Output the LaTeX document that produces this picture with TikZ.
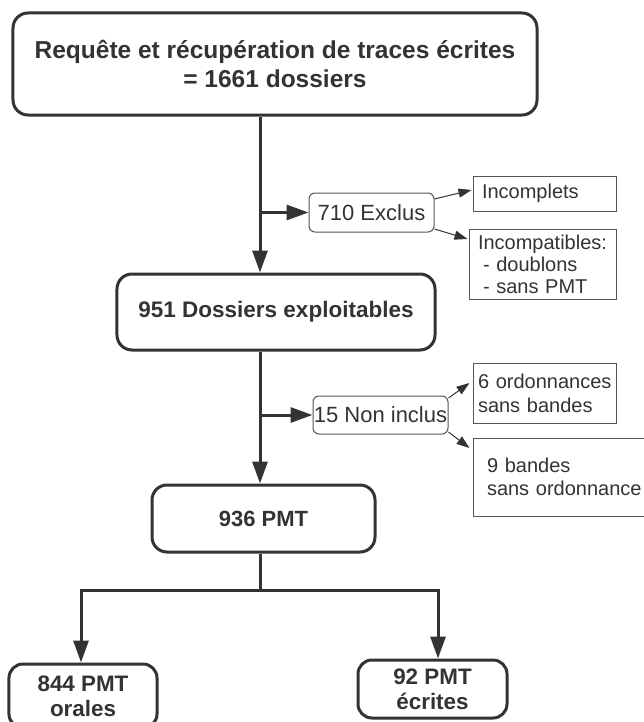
\documentclass[tikz,border=0pt]{standalone}
\usepackage{fontspec}
\setmainfont{Liberation Sans}
\usetikzlibrary{arrows.meta}
\definecolor{dk}{HTML}{333333}
\definecolor{md}{HTML}{555555}
\newcommand\fsz[2]{\fontsize{#1bp}{#2bp}\selectfont}
\hyphenpenalty=10000
\exhyphenpenalty=10000
\begin{document}
\begin{tikzpicture}[x=1bp,y=-1bp,
  bigbox/.style={draw=dk, line width=3bp, rounded corners=15bp, fill=white, text=dk, align=center, inner sep=0pt},
  smallbox/.style={draw=md, line width=1bp, rounded corners=6bp, fill=white, text=dk, inner sep=0pt},
  notebox/.style={draw=md, line width=1bp, fill=white, text=dk, align=left, inner ysep=0pt},
  bigarrow/.style={draw=dk, line width=3bp, -{Triangle[length=22bp,width=15bp]}},
  bigline/.style={draw=dk, line width=3bp},
  thinarrow/.style={draw=dk, line width=1bp, -{Triangle[length=13bp,width=9bp]}}
]
\useasboundingbox (0,0) rectangle (644,722);
\clip (0,0) rectangle (644,722);
\fill[white] (0,0) rectangle (644,722);

% main boxes
\node[bigbox, minimum width=524bp, minimum height=102bp, font=\fsz{24.5}{29}\bfseries] (A) at (275,64)
  {Requête et récupération de traces écrites\\= 1661 dossiers};
\node[bigbox, minimum width=318bp, minimum height=76bp, font=\fsz{22.5}{27}\bfseries] (B) at (276,312)
  {951 Dossiers exploitables};
\node[bigbox, minimum width=223bp, minimum height=67bp, font=\fsz{22}{26}\bfseries] (C) at (263.5,518.5)
  {936 PMT};
\node[bigbox, rounded corners=14bp, minimum width=148bp, minimum height=64bp, font=\fsz{22.4}{25}\bfseries] (D) at (83,696)
  {844 PMT\\orales};
\node[bigbox, rounded corners=14bp, minimum width=149bp, minimum height=58bp, font=\fsz{22.4}{25}\bfseries] (E) at (432.5,689)
  {92 PMT\\écrites};

% side boxes
\node[smallbox, minimum width=125bp, minimum height=39bp, font=\fsz{22}{26}] (X) at (371.5,212.5) {710 Exclus};
\node[smallbox, minimum width=135bp, minimum height=38bp, font=\fsz{22}{26}] (N) at (380.5,415) {15 Non inclus};

\node[notebox, inner xsep=9bp, text width=125bp, minimum height=35bp, font=\fsz{20}{22}] (I1) at (544.5,193.5)
  {Incomplets};
\node[notebox, inner xsep=9bp, text width=129bp, minimum height=70bp, font=\fsz{20}{22}] (I2) at (542.5,264)
  {Incompatibles:\\\hspace*{5bp}-~doublons\\\hspace*{5bp}-~sans~PMT};
\node[notebox, inner xsep=5bp, text width=133bp, minimum height=60bp, font=\fsz{20}{24}] (O) at (544.5,393)
  {6~ordonnances\\sans~bandes};
\node[notebox, inner xsep=14bp, text width=161bp, minimum height=78bp, font=\fsz{20}{23}] (Bd) at (567.5,477)
  {9~bandes\\sans~ordonnance};

% junctions
\coordinate (j1) at (260,212.5);
\coordinate (j2) at (260,415);
\coordinate (j3) at (260,590);

% main connectors
\draw[bigarrow] (A.south -| j1) -- (B.north -| j1);
\draw[bigarrow] (j1) -- (X.west);
\draw[bigarrow] (B.south -| j2) -- (C.north -| j2);
\draw[bigarrow] (j2) -- (N.west);
\draw[bigline] (C.south -| j3) -- (j3);
\draw[bigarrow] (j3) -| ([xshift=-2bp]D.north);
\draw[bigarrow] (j3) -| ([xshift=5.5bp]E.north);

% thin connectors
\draw[thinarrow] ([yshift=13.5bp]X.east) -- ([xshift=-1bp,yshift=3.5bp]I1.west);
\draw[thinarrow] ([yshift=-16.5bp]X.east) -- ([xshift=-1bp,yshift=25bp]I2.west);
\draw[thinarrow] ([yshift=17bp]N.east) -- ([xshift=-3bp,yshift=10bp]O.west);
\draw[thinarrow] ([yshift=-17bp]N.east) -- ([xshift=-3bp,yshift=29bp]Bd.west);
\end{tikzpicture}
\end{document}
